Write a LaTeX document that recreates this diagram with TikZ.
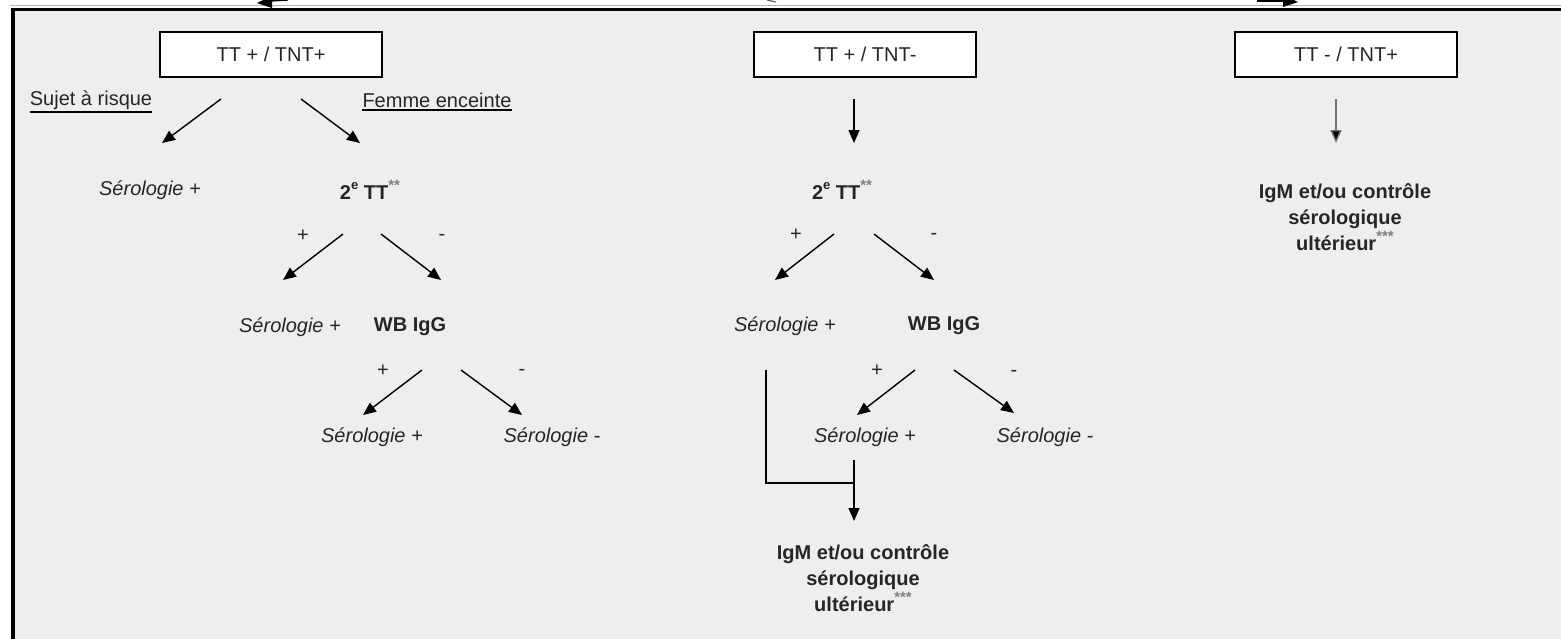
\documentclass[tikz,border=0pt]{standalone}
\usepackage{fontspec}
\setmainfont{Liberation Sans}
\usetikzlibrary{arrows.meta}
\definecolor{panel}{HTML}{EEEEEE}
\newcommand{\stars}[1]{\raisebox{0.42em}{\color{black!50}\fontsize{15}{15}\selectfont #1}}
\newcommand{\sece}{\raisebox{0.5em}{\fontsize{13}{13}\selectfont e}}
\tikzset{
  base/.style={font=\fontsize{20}{26}\selectfont, inner sep=0pt, text=black!85},
  testbox/.style={base, draw=black, line width=1.5pt, fill=white, minimum width=222pt, minimum height=45pt},
  res/.style={base, font=\fontsize{20}{26}\selectfont\itshape},
  step2/.style={base, font=\fontsize{20}{26}\selectfont\bfseries},
  sign/.style={base},
  uline/.style={line width=2pt},
  con/.style={line width=1.4pt, -{Triangle[length=13pt,width=11pt]}},
  plain/.style={line width=1.4pt}
}
\begin{document}
\begin{tikzpicture}[x=1pt,y=-1pt]
\useasboundingbox (0,0) rectangle (1561,638);
\clip (0,0) rectangle (1561,638);
\fill[white] (0,0) rectangle (1561,638);
\fill[panel] (13,9) rectangle (1570,650);
\draw[black!30, line width=1pt] (10,5.5) -- (1570,5.5);
\draw[line width=3.8pt] (13,660) -- (13,9.5) -- (1570,9.5);
% top fragments
\fill (257,3) -- (272,-4) -- (272,8) -- cycle;
\draw[line width=1.4pt] (270,1) -- (288,0);
\draw[line width=1pt, black!70] (767,0) -- (776,2);
\fill (1298,2) -- (1283,-5) -- (1283,7) -- cycle;
\draw[line width=1.4pt] (1257,1) -- (1285,1);

% left column
\node[testbox] (b1) at (271,54.5) {TT + / TNT+};
\node[base] (sujet) at (91,100) {Sujet à risque};
\node[base] (femme) at (437,100) {Femme enceinte};
\draw[uline] ([yshift=-2pt]sujet.south west) -- ([yshift=-2pt]sujet.south east);
\draw[uline] ([yshift=-2pt]femme.south west) -- ([yshift=-2pt]femme.south east);
\node[res] (s1) at (150,190) {Sérologie +};
\node[step2] (tt1) at (370,190) {2\sece\ TT\stars{**}};
\node[sign] (p1) at (303,236) {+};
\node[sign] (m1) at (442,237) {-};
\node[res] (s2) at (290,327) {Sérologie +};
\node[step2] (wb1) at (410,327) {WB IgG};
\node[sign] (p2) at (383,371) {+};
\node[sign] (m2) at (522,372) {-};
\node[res] (s3) at (372,437) {Sérologie +};
\node[res] (s4) at (552,437) {Sérologie -};

\coordinate (a1s) at (221,99);  \coordinate (a1e) at (162,143);
\coordinate (a2s) at (301,99);  \coordinate (a2e) at (360,143);
\coordinate (a3s) at (343,234); \coordinate (a3e) at (283,280);
\coordinate (a4s) at (381,234); \coordinate (a4e) at (441,280);
\coordinate (a5s) at (422,370); \coordinate (a5e) at (363,415);
\coordinate (a6s) at (461,370); \coordinate (a6e) at (522,415);
\draw[con] (a1s) -- (a1e);
\draw[con] (a2s) -- (a2e);
\draw[con] (a3s) -- (a3e);
\draw[con] (a4s) -- (a4e);
\draw[con] (a5s) -- (a5e);
\draw[con] (a6s) -- (a6e);

% middle column
\node[testbox] (b2) at (865,54.5) {TT + / TNT-};
\node[step2] (tt2) at (842,190) {2\sece\ TT\stars{**}};
\node[sign] (p3) at (796,235) {+};
\node[sign] (m3) at (934,236) {-};
\node[res] (s5) at (785,326) {Sérologie +};
\node[step2] (wb2) at (944,326) {WB IgG};
\node[sign] (p4) at (877,371) {+};
\node[sign] (m4) at (1014,373) {-};
\node[res] (s6) at (865,437) {Sérologie +};
\node[res] (s7) at (1045,437) {Sérologie -};
\node[step2, align=center] (igm1) at (863,578) {IgM et/ou contrôle\\sérologique\\ultérieur\stars{***}};

\coordinate (b2s) at (854,99);  \coordinate (b2e) at (854,143);
\coordinate (a7s) at (834,234); \coordinate (a7e) at (775,280);
\coordinate (a8s) at (874,234); \coordinate (a8e) at (934,280);
\coordinate (a9s) at (915,370); \coordinate (a9e) at (857,415);
\coordinate (a10s) at (954,370); \coordinate (a10e) at (1014,413);
\coordinate (k1) at (766,370); \coordinate (k2) at (766,483); \coordinate (k3) at (854,483);
\coordinate (ds) at (854,460); \coordinate (de) at (854,521);
\draw[con] (b2s) -- (b2e);
\draw[con] (a7s) -- (a7e);
\draw[con] (a8s) -- (a8e);
\draw[con] (a9s) -- (a9e);
\draw[con] (a10s) -- (a10e);
\draw[plain] (k1) -- (k2) -- (k3);
\draw[con] (ds) -- (de);

% right column
\node[testbox] (b3) at (1346,54.5) {TT - / TNT+};
\node[step2, align=center] (igm2) at (1345,217) {IgM et/ou contrôle\\sérologique\\ultérieur\stars{***}};
\coordinate (b3s) at (1336,99); \coordinate (b3e) at (1336,143);
\draw[con, draw=black!55, -{Triangle[length=13pt,width=11pt,fill=black]}] (b3s) -- (b3e);
\end{tikzpicture}
\end{document}
